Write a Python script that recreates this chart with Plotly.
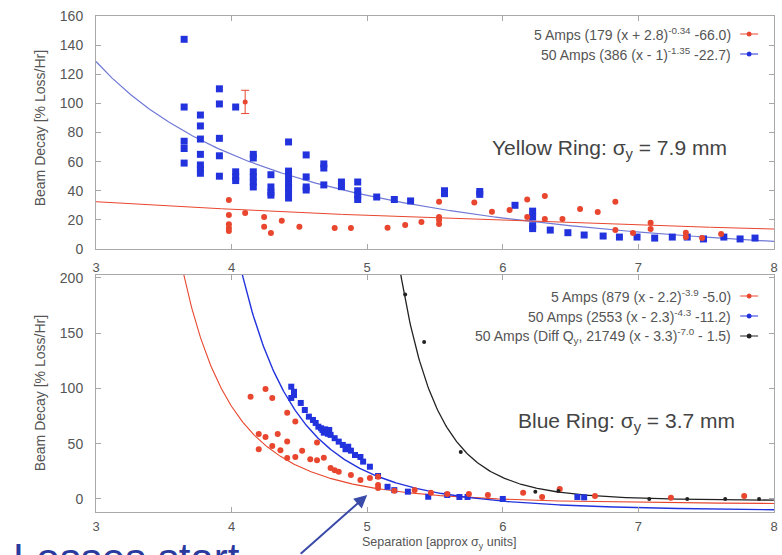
import numpy as np
import plotly.graph_objects as go

# ---------------- data ----------------
# Top panel: Yellow ring
top50_x = [3.65]*5 + [3.77]*7 + [3.91]*5 + [4.03]*4 + [4.16]*6 + [4.29]*4 + [4.42]*7 + [4.55]*4 + [4.68]*3 + \
          [4.81]*2 + [4.93]*4 + [5.07, 5.20, 5.32, 5.57, 5.57, 5.83, 5.83, 6.09, 6.22, 6.22, 6.22, 6.22, 6.35,
                                 6.48, 6.60, 6.74, 6.86, 6.99, 7.12, 7.25, 7.36, 7.48, 7.63, 7.75, 7.86]
top50_y = [144, 97.5, 74, 69, 59,
           92, 84.5, 75.5, 65, 57.7, 55, 52,
           110, 99.6, 76, 64, 50,
           97.5, 53, 49.5, 47,
           65, 62.5, 53, 49.5, 46, 42.6,
           51, 42.6, 39, 37,
           73.5, 53.5, 49.5, 45, 42, 38.5, 35,
           64.6, 49.5, 42.6, 40.5,
           58.4, 55.6, 44,
           46, 42.8,
           46, 40, 37, 34,
           35.7, 34, 33, 40, 38, 39.5, 37.5, 30, 26, 22, 16, 14, 13,
           11.2, 9.6, 8.9, 8.2, 8.2, 7.5, 8.2, 8.2, 6.9, 8.2, 6.9, 7.5]

top5_x = [3.98]*5 + [4.10, 4.24, 4.24, 4.29, 4.37, 4.50, 4.76, 4.88, 5.15, 5.28, 5.40,
                     5.53, 5.53, 5.53, 5.53, 5.79, 5.92, 6.05, 6.18, 6.18, 6.31, 6.31, 6.44, 6.57,
                     6.70, 6.83, 6.83, 6.96, 7.09, 7.09, 7.35, 7.35, 7.47, 7.61]
top5_y = [33.6, 23.4, 17, 14.4, 12.4,
          24.7, 22, 15.3, 11, 19.4, 15.3, 14.4, 14.4, 14.6, 16.5, 18.5,
          32.5, 22, 20, 17.2, 32, 25.6, 26.8, 34, 22, 36.4, 20.6, 20.6, 27.5,
          25.4, 32.5, 13, 11, 18, 13.7, 11.2, 8.2, 7.5, 10.3]
top5_err_x = [4.10]
top5_err_y = [101]
top5_err = [8]

# fit parameters: a * (x + b)^c + d
top5_fit = [179, 2.8, -0.34, -66.0]
top50_fit = [386, -1.0, -1.35, -22.7]

# Bottom panel: Blue ring
bot5_x = [4.14, 4.25, 4.25, 4.30, 4.30, 4.41, 4.41, 4.41, 4.47, 4.47, 4.20, 4.20, 4.34, 4.36,
          4.52, 4.58, 4.63, 4.63, 4.68, 4.73, 4.76, 4.79, 4.88, 4.95, 5.02, 5.08, 5.08, 5.08,
          5.20, 5.35, 5.47, 5.59, 5.75, 5.89, 6.15, 6.29, 6.42, 6.68, 7.24, 7.78]
bot5_y = [92.6, 99.5, 56, 91.4, 48, 78, 37, 52, 70, 38, 58.8, 45, 58.8, 44,
          43.7, 36, 35, 51, 37.4, 28, 26, 24.7, 21.7, 17.2, 19, 20, 12.7, 10,
          7.5, 8, 5.7, 4.5, 4.5, 3.6, 5.7, 1.8, 9, 2.7, 1, 2.7]

bot50_x = [4.44, 4.44, 4.46, 4.46, 4.51, 4.54, 4.57, 4.60, 4.62, 4.64, 4.66, 4.67, 4.68, 4.69, 4.70,
           4.71, 4.72, 4.73, 4.76, 4.79, 4.82, 4.84, 4.86, 4.88, 4.91, 4.95, 4.97, 5.02, 5.08,
           5.15, 5.20, 5.30, 5.45, 5.59, 5.68, 5.74, 6.00, 6.55, 6.60]
bot50_y = [101.6, 91.4, 94, 97, 86.9, 80.5, 74.5, 71.5, 68.8, 65.4, 64, 62.4, 60, 63, 61,
           59, 62.4, 58, 55, 51.9, 48.9, 45, 47.3, 43.7, 39.8, 38, 33.8, 29.2, 20.8,
           11, 8, 6.6, 2, 3.6, 1.8, 1.8, 0, 1.8, 1.5]

botdq_x = [5.28, 5.42, 5.69, 6.24, 6.41, 7.08, 7.36, 7.64, 7.89]
botdq_y = [185, 142, 42.5, 6.6, 7.2, 0, 0, 0, 0]

bot5_fit = [879, -2.2, -3.9, -5.0]
bot50_fit = [2553, -2.3, -4.3, -11.2]
botdq_fit = [21749, -3.3, -7.0, -1.5]

x_ticks = [3, 4, 5, 6, 7, 8]
top_y_ticks = [0, 20, 40, 60, 80, 100, 120, 140, 160]
bot_y_ticks = [0, 50, 100, 150, 200]

top_legend = ["5 Amps (179 (x + 2.8)<sup>-0.34</sup> -66.0)",
              "50 Amps (386 (x - 1)<sup>-1.35</sup> -22.7)"]
bot_legend = ["5 Amps (879 (x - 2.2)<sup>-3.9</sup> -5.0)",
              "50 Amps (2553 (x - 2.3)<sup>-4.3</sup> -11.2)",
              "50 Amps (Diff Q<sub>y</sub>, 21749 (x - 3.3)<sup>-7.0</sup> - 1.5)"]

# ---------------- styles ----------------
RED = "#e8462e"
BLUE = "#2233dd"
LBLUE = "#7079d6"
BLACK = "#222222"
GRAY = "#a8a8a8"
TXT = "#555555"
FONT = "Liberation Sans, Arial, sans-serif"

W, H = 782, 555
ML, MR, MT, MB = 96, 4, 16, 43
PW, PH = W - ML - MR, H - MT - MB


def px(p):
    return (p - ML) / PW


def py(p):
    return (H - MB - p) / PH


def fit(params, xs):
    a, b, c, d = params
    base = xs + b
    with np.errstate(invalid="ignore", divide="ignore"):
        out = a * np.power(base, c) + d
    out[base <= 0] = np.nan
    return out


xs = np.linspace(3, 8, 600)

fig = go.Figure()

# top panel
fig.add_trace(go.Scatter(x=xs, y=fit(top50_fit, xs), mode="lines", line=dict(color=LBLUE, width=1.2),
                         xaxis="x", yaxis="y", hoverinfo="skip"))
fig.add_trace(go.Scatter(x=xs, y=fit(top5_fit, xs), mode="lines", line=dict(color=RED, width=1),
                         xaxis="x", yaxis="y", hoverinfo="skip"))
fig.add_trace(go.Scatter(x=top50_x, y=top50_y, mode="markers",
                         marker=dict(symbol="square", size=7, color=BLUE), xaxis="x", yaxis="y"))
fig.add_trace(go.Scatter(x=top5_x, y=top5_y, mode="markers",
                         marker=dict(symbol="circle", size=6, color=RED), xaxis="x", yaxis="y"))
fig.add_trace(go.Scatter(x=top5_err_x, y=top5_err_y, mode="markers",
                         error_y=dict(type="data", array=top5_err, color=RED, thickness=1, width=4),
                         marker=dict(symbol="circle", size=5, color=RED), xaxis="x", yaxis="y"))

# bottom panel
fig.add_trace(go.Scatter(x=xs, y=fit(botdq_fit, xs), mode="lines", line=dict(color=BLACK, width=1.3),
                         xaxis="x2", yaxis="y2", hoverinfo="skip"))
fig.add_trace(go.Scatter(x=xs, y=fit(bot5_fit, xs), mode="lines", line=dict(color=RED, width=1.1),
                         xaxis="x2", yaxis="y2", hoverinfo="skip"))
fig.add_trace(go.Scatter(x=xs, y=fit(bot50_fit, xs), mode="lines", line=dict(color=BLUE, width=1.4),
                         xaxis="x2", yaxis="y2", hoverinfo="skip"))
fig.add_trace(go.Scatter(x=bot50_x, y=bot50_y, mode="markers",
                         marker=dict(symbol="square", size=6, color=BLUE), xaxis="x2", yaxis="y2"))
fig.add_trace(go.Scatter(x=bot5_x, y=bot5_y, mode="markers",
                         marker=dict(symbol="circle", size=6, color=RED), xaxis="x2", yaxis="y2"))
fig.add_trace(go.Scatter(x=botdq_x, y=botdq_y, mode="markers",
                         marker=dict(symbol="circle", size=4, color=BLACK), xaxis="x2", yaxis="y2"))

axis_common = dict(showline=True, linecolor=GRAY, linewidth=1, mirror="ticks", ticks="inside",
                   ticklen=5, tickcolor=GRAY, showgrid=False, zeroline=False, ticklabeloverflow="allow")
yfont = dict(family=FONT, size=14, color=TXT)
xfont = dict(family=FONT, size=13, color=TXT)

fig.update_layout(
    width=W, height=H, margin=dict(l=ML, r=MR, t=MT, b=MB),
    paper_bgcolor="white", plot_bgcolor="white", showlegend=False,
    xaxis=dict(domain=[0, 1], range=[3, 8], tickvals=x_ticks, anchor="y", ticklabelstandoff=6,
               tickfont=xfont, **axis_common),
    yaxis=dict(domain=[py(249), 1], range=[0, 160], tickvals=top_y_ticks, anchor="x",
               ticklabelstandoff=9, tickfont=yfont, **axis_common),
    xaxis2=dict(domain=[0, 1], range=[3, 8], tickvals=x_ticks, anchor="y2", ticklabelstandoff=2,
                tickfont=xfont, **axis_common),
    yaxis2=dict(domain=[0, py(275)], range=[-11.8, 202.7], tickvals=bot_y_ticks, anchor="x2",
                ticklabelstandoff=9, tickfont=yfont, **axis_common),
)

ann = []
# axis titles
for yc in (128, 393):
    ann.append(dict(text="Beam Decay [% Loss/Hr]", x=px(40), y=py(yc), xref="paper", yref="paper",
                    xanchor="center", yanchor="middle", textangle=-90, showarrow=False,
                    font=dict(family=FONT, size=14, color=TXT)))
ann.append(dict(text="Separation [approx σ<sub>y</sub> units]", x=px(442), y=py(543), xref="paper",
                yref="paper", xanchor="center", yanchor="middle", showarrow=False,
                font=dict(family=FONT, size=12.5, color=TXT)))
# ring labels
ann.append(dict(text="Yellow Ring: σ<sub>y</sub> = 7.9 mm", x=px(613), y=py(149), xref="paper", yref="paper",
                xanchor="center", yanchor="middle", showarrow=False,
                font=dict(family=FONT, size=21, color="#444444")))
ann.append(dict(text="Blue Ring: σ<sub>y</sub> = 3.7 mm", x=px(630), y=py(422), xref="paper", yref="paper",
                xanchor="center", yanchor="middle", showarrow=False,
                font=dict(family=FONT, size=21, color="#444444")))

shapes = []
leg_rows_top = [(34, RED, top_legend[0]), (54, BLUE, top_legend[1])]
leg_rows_bot = [(296, RED, bot_legend[0]), (316, BLUE, bot_legend[1]), (336, BLACK, bot_legend[2])]
for yrow, col, txt in leg_rows_top + leg_rows_bot:
    ann.append(dict(text=txt, x=px(737), y=py(yrow), xref="paper", yref="paper", xanchor="right",
                    yanchor="middle", showarrow=False, font=dict(family=FONT, size=14, color=TXT)))
    shapes.append(dict(type="line", xref="paper", yref="paper", x0=px(744), x1=px(762), y0=py(yrow), y1=py(yrow),
                       line=dict(color=col, width=1)))
    shapes.append(dict(type="circle", xref="paper", yref="paper", x0=px(750.5), x1=px(755.5),
                       y0=py(yrow + 2.5), y1=py(yrow - 2.5), fillcolor=col, line=dict(color=col, width=0)))

# "Losses start" callout
ann.append(dict(text="Losses start", x=px(12), y=py(534), xref="paper", yref="paper", xanchor="left",
                yanchor="top", showarrow=False, borderpad=0,
                font=dict(family=FONT, size=42, color="#2b3a9e")))
ann.append(dict(text="", x=5.0, y=3.6, xref="x2", yref="y2", ax=-68, ay=61, showarrow=True,
                arrowhead=2, arrowsize=1.3, arrowwidth=2, arrowcolor="#3a4aa8"))

fig.update_layout(annotations=ann, shapes=shapes)
fig.write_html("out.html")
